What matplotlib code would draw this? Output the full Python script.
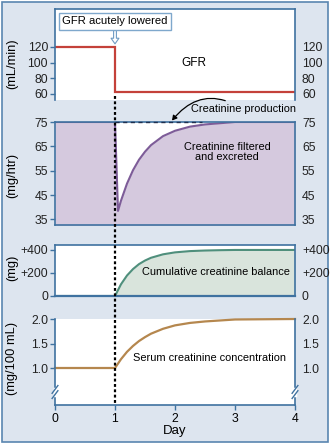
import matplotlib
matplotlib.use("Agg")
import matplotlib.pyplot as plt
import matplotlib.transforms as mtransforms
from matplotlib.lines import Line2D
from matplotlib.patches import Rectangle

plt.rcParams['font.family'] = ['Liberation Sans', 'DejaVu Sans']

# === data === #
days = [0, 1, 2, 3, 4]

gfr_x = [0, 1, 1, 4]
gfr_y = [120, 120, 63, 63]

excr_x = [0, 1, 1.05, 1.1, 1.2, 1.3, 1.4, 1.5, 1.6, 1.8, 2.0, 2.25, 2.5, 2.75, 3.0, 4.0]
excr_y = [75, 75, 38.5, 42.7, 49.7, 55.2, 59.5, 62.8, 65.5, 69.2, 71.4, 73.1, 74.0, 74.5, 75, 75]
production = 75

bal_x = [0, 1, 1.1, 1.2, 1.3, 1.4, 1.5, 1.6, 1.8, 2.0, 2.25, 2.5, 2.75, 3.0, 4.0]
bal_y = [0, 0, 102, 178, 234, 277, 308, 332, 362, 379, 390, 395, 398, 400, 400]

serum_x = [0, 1, 1.1, 1.2, 1.3, 1.4, 1.5, 1.6, 1.8, 2.0, 2.25, 2.5, 2.75, 3.0, 4.0]
serum_y = [1.0, 1.0, 1.18, 1.33, 1.45, 1.55, 1.63, 1.70, 1.80, 1.87, 1.92, 1.95, 1.97, 1.99, 2.0]

gfr_ticks = [60, 80, 100, 120]
excr_ticks = [35, 45, 55, 65, 75]
bal_ticks = [0, 200, 400]
bal_labels = ['0', '+200', '+400']
serum_ticks = [1.0, 1.5, 2.0]
serum_labels = ['1.0', '1.5', '2.0']

# colours
bg = '#dde5ef'
frame = '#3f72a0'
red = '#c4413a'
purple = '#7d5c98'
purple_fill = '#d5c9de'
green = '#4f8f7c'
green_fill = '#d9e4dc'
brown = '#b5874e'

TICK = 8.8
NOTE = 7.9

W, H = 330, 444
fig = plt.figure(figsize=(3.3, 4.44), dpi=100)
fig.patch.set_facecolor('white')
fig.add_artist(Rectangle((2 / W, 2 / H), 326 / W, 440 / H, transform=fig.transFigure,
                         facecolor=bg, edgecolor='#5a86b0', lw=1.2, zorder=-10))


def panel(top, bottom):
    ax = fig.add_axes([55 / W, 1 - bottom / H, 240 / W, (bottom - top) / H])
    ax.set_facecolor('white')
    ax.set_xlim(0, 4)
    for s in ax.spines.values():
        s.set_color(frame)
        s.set_linewidth(1.2)
    ax.tick_params(axis='y', direction='out', length=3.5, width=1, color=frame,
                   labelsize=TICK, pad=1.5, labelright=True, right=False,
                   labelcolor='#222222')
    ax.tick_params(axis='x', bottom=False, labelbottom=False)
    return ax


# == GFR panel == #
ax1 = panel(9, 100)
ax1.set_ylim(52.3, 168.5)
ax1.spines['bottom'].set_visible(False)
ax1.set_yticks(gfr_ticks)
ax1.plot(gfr_x, gfr_y, color=red, lw=1.6, solid_joinstyle='miter')
ax1.text(2.32, 99.6, 'GFR', ha='center', va='center', fontsize=NOTE + 0.6)
ax1.annotate('GFR acutely lowered', xy=(1, 124), xytext=(1, 153), ha='center', va='center',
             fontsize=NOTE + 0.2,
             bbox=dict(boxstyle='square,pad=0.3', fc='white', ec='#7fa8cc', lw=1),
             arrowprops=dict(arrowstyle='simple,head_width=0.7,head_length=0.5,tail_width=0.25',
                             fc='white', ec='#6f9cc4', lw=0.8, shrinkA=0, shrinkB=0))

# == creatinine excretion panel == #
ax2 = panel(122, 225)
ax2.set_ylim(32.7, 75)
ax2.set_yticks(excr_ticks)
ax2.fill_between(excr_x, excr_y, 30, color=purple_fill, lw=0)
ax2.plot(excr_x, excr_y, color=purple, lw=1.5)
ax2.plot([1, 2.45], [production, production], color='#1f3050', lw=1,
         ls=(0, (3, 2.5)), clip_on=False, zorder=5)
ax2.annotate('Creatinine production', xy=(1.95, 75.6), xytext=(2.26, 80.2),
             ha='left', va='center', fontsize=NOTE, annotation_clip=False,
             arrowprops=dict(arrowstyle='-|>,head_width=0.2,head_length=0.35', color='black',
                             lw=0.9, connectionstyle='arc3,rad=0.45', shrinkA=2, shrinkB=0))
ax2.text(2.87, 62.6, 'Creatinine filtered\nand excreted', ha='center', va='center',
         fontsize=NOTE, linespacing=1.0)

# == cumulative balance panel == #
ax3 = panel(245, 296)
ax3.set_ylim(0, 443)
ax3.set_yticks(bal_ticks, bal_labels)
ax3.fill_between(bal_x, bal_y, 0, color=green_fill, lw=0)
ax3.plot(bal_x, bal_y, color=green, lw=1.5)
ax3.spines['bottom'].set_linewidth(1.6)
ax3.text(2.68, 209, 'Cumulative creatinine balance', ha='center', va='center', fontsize=NOTE)

# == serum creatinine panel == #
ax4 = panel(319, 405)
ax4.set_ylim(0.245, 2.0)
ax4.spines['top'].set_visible(False)
ax4.set_yticks(serum_ticks, serum_labels)
ax4.plot(serum_x, serum_y, color=brown, lw=1.6, clip_on=False)
ax4.set_xticks(days)
ax4.tick_params(axis='x', bottom=True, labelbottom=True, direction='out', length=3.5,
                width=1, color=frame, labelsize=TICK, pad=2)
ax4.set_xlabel('Day', fontsize=9.5, labelpad=0)
ax4.text(2.58, 1.2, 'Serum creatinine concentration', ha='center', va='center', fontsize=NOTE)

# axis breaks on both vertical spines
yb = 13 / 86
for xb in (0, 1):
    ax4.plot([xb, xb], [yb - 0.035, yb + 0.035], transform=ax4.transAxes, color='white',
             lw=2.5, clip_on=False, zorder=6)
    for dy in (-0.03, 0.03):
        ax4.plot([xb - 0.012, xb + 0.012], [yb + dy - 0.045, yb + dy + 0.045],
                 transform=ax4.transAxes, color=frame, lw=1, clip_on=False, zorder=7)

# y-axis unit labels
for txt, yc in [('(mL/min)', 64), ('(mg/htr)', 175), ('(mg)', 268), ('(mg/100 mL)', 358)]:
    fig.text(12 / W, 1 - yc / H, txt, rotation=90, ha='center', va='center', fontsize=9.3)

# dotted marker of the day GFR drops
trans = mtransforms.blended_transform_factory(ax4.transData, fig.transFigure)
fig.add_artist(Line2D([1, 1], [1 - 96 / H, 1 - 405 / H], transform=trans, color='black',
                      lw=1.6, ls=(0, (1.3, 1.1)), zorder=10))

fig.savefig('out.png', dpi=100)
